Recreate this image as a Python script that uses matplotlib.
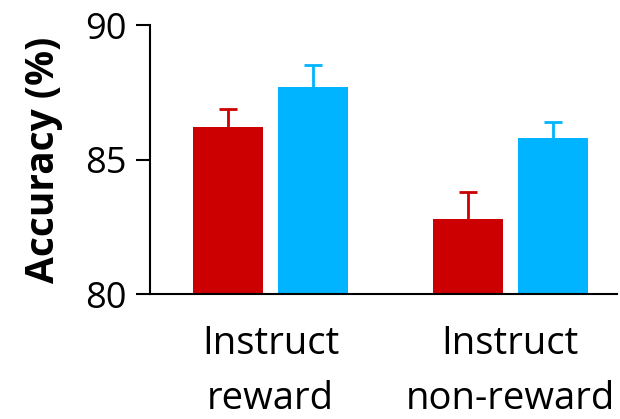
import matplotlib
matplotlib.use('Agg')
import matplotlib.pyplot as plt
import numpy as np

plt.rcParams['font.family'] = ['Open Sans', 'DejaVu Sans']

categories = ['Instruct\nreward', 'Instruct\nnon-reward']
red_vals = [86.2, 82.8]
red_err = [0.7, 1.0]
blue_vals = [87.7, 85.8]
blue_err = [0.8, 0.6]
red = '#CC0000'
blue = '#00B4FF'

fig = plt.figure(figsize=(6.2, 4.19), dpi=100)
ax = fig.add_axes([0.242, 0.298, 0.753, 0.642])

x = np.arange(len(categories))
w = 0.292
off = 0.177
for xs, vals, err, c in [(x - off, red_vals, red_err, red), (x + off, blue_vals, blue_err, blue)]:
    vals = np.array(vals)
    tops = vals + np.array(err)
    ax.bar(xs, vals, w, color=c, zorder=2)
    # only the upper half of the error bar, with a cap
    ax.vlines(xs, vals, tops, color=c, lw=2, zorder=1)
    ax.plot(xs, tops, ls='none', marker='_', ms=12.5, mew=2, color=c, zorder=1)

ax.set_ylim(80, 90)
ax.set_xlim(-0.502, 1.444)
ax.set_yticks([80, 85, 90])
ax.set_xticks(x)
ax.set_xticklabels(categories, fontsize=27.5, linespacing=1.6)
ax.tick_params(axis='y', labelsize=26, length=10, width=1.5, pad=7)
ax.tick_params(axis='x', length=0, pad=22)
ax.spines['top'].set_visible(False)
ax.spines['right'].set_visible(False)
ax.spines['left'].set_linewidth(1.5)
ax.spines['bottom'].set_linewidth(1.5)
ax.set_ylabel('Accuracy (%)', fontsize=28, fontweight='bold', labelpad=16)

fig.savefig('out.png', dpi=100)
